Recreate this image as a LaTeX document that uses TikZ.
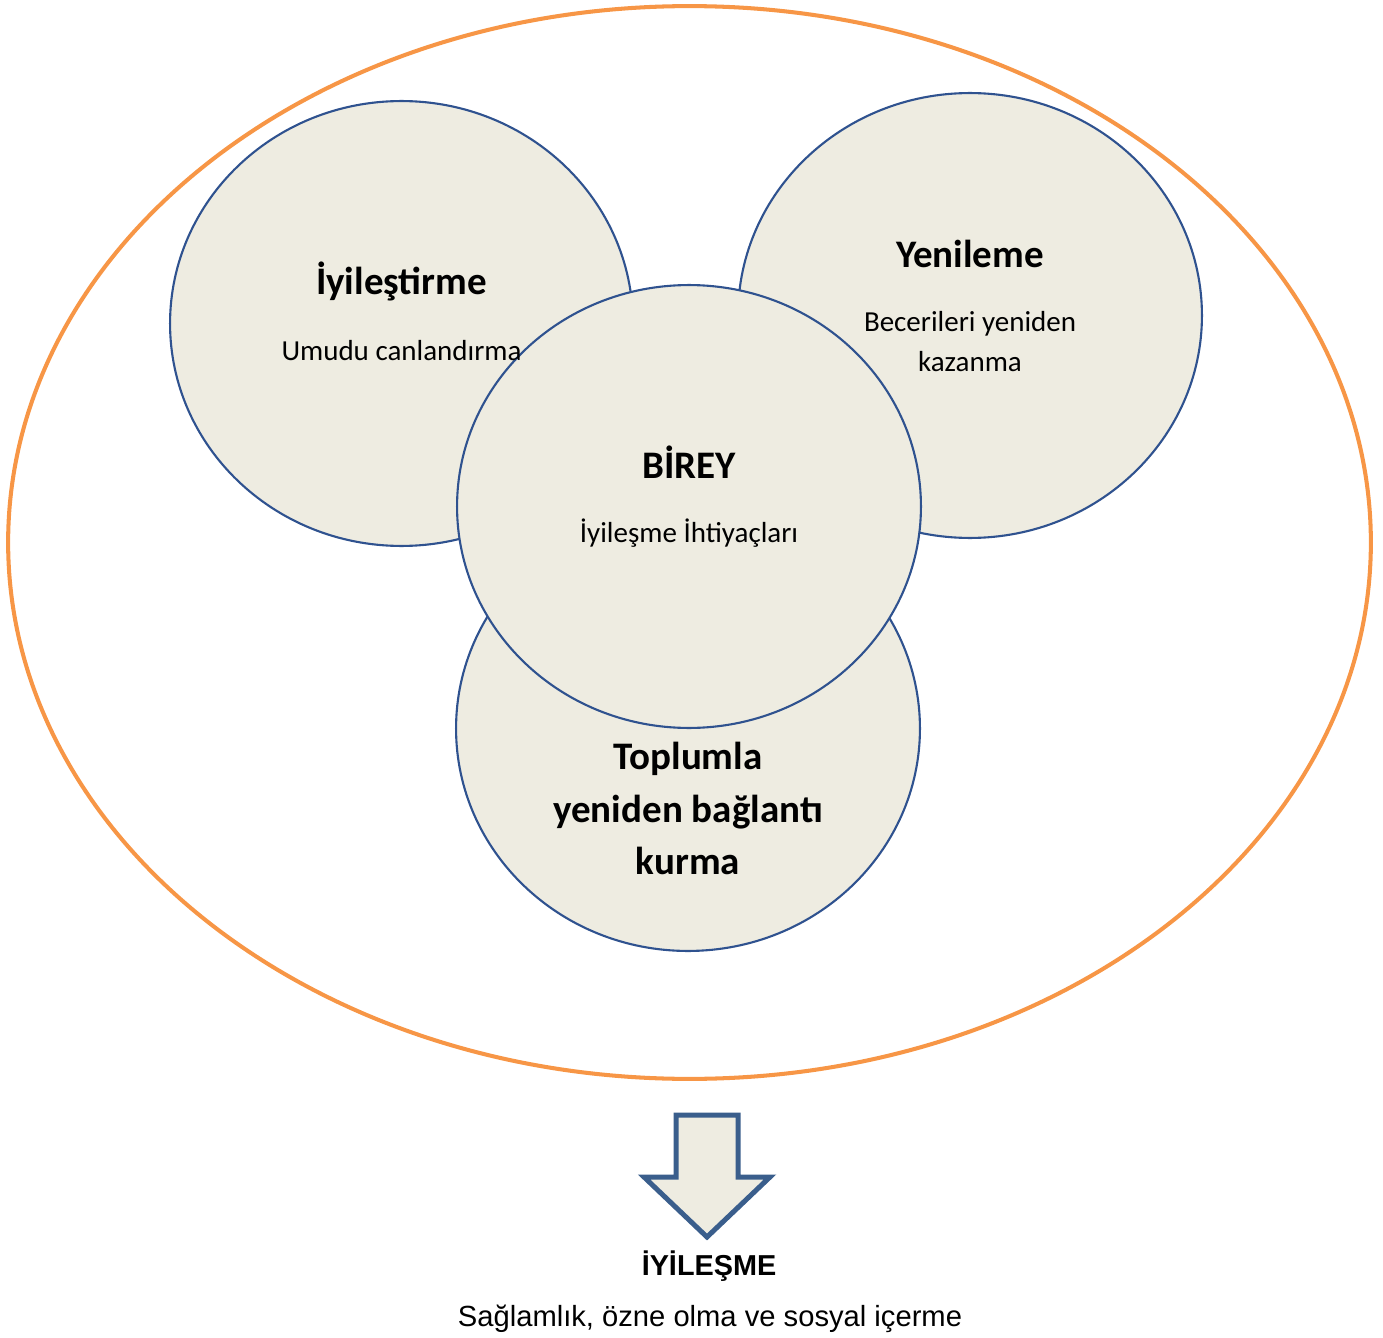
\documentclass[tikz,border=0pt]{standalone}
\usepackage{fontspec}
\setmainfont{Carlito}
\newfontfamily\arialfont{Liberation Sans}
\usepackage{xcolor}
\usetikzlibrary{shapes.geometric}

\definecolor{turuncu}{HTML}{F79646}
\definecolor{halkamavi}{HTML}{2F528F}
\definecolor{oknavi}{HTML}{3A5E8C}
\definecolor{halkadolgu}{HTML}{EEECE1}

\begin{document}
\begin{tikzpicture}[x=0.02cm,y=-0.02cm,
    halka/.style={ellipse,draw=halkamavi,fill=halkadolgu,line width=1.2pt,inner sep=0pt},
    baslik/.style={anchor=base,inner sep=0pt,font=\fontsize{22.2}{29.6}\selectfont\bfseries,align=center},
    metin/.style={anchor=base,inner sep=0pt,font=\fontsize{16.5}{22.2}\selectfont,align=center}]

\useasboundingbox (0,0) rectangle (1383,1338);

\node [ellipse,draw=turuncu,line width=2.3pt,minimum width=27.26cm,minimum height=21.46cm] (dis) at (689.5,542.5) {}; % outer ring

\node [halka,minimum width=9.26cm,minimum height=8.9cm] (iyilestirme) at (401.5,323.5) {};
\node [halka,minimum width=9.28cm,minimum height=8.9cm] (yenileme) at (970,315.5) {};
\node [halka,minimum width=9.28cm,minimum height=8.9cm] (toplum) at (688,728.5) {};
\node [halka,minimum width=9.28cm,minimum height=8.86cm] (birey) at (689,506.5) {}; % on top

\node [baslik] (iyilestirmeT) at (401.5,295) {İyileştirme};
\node [metin] (iyilestirmeA) at (401.5,360) {Umudu canlandırma};

\node [baslik] (yenilemeT) at (970,268) {Yenileme};
\node [metin] (yenilemeA) at (970,371) {Becerileri yeniden\\kazanma};

\node [baslik] (bireyT) at (689,478) {BİREY};
\node [metin] (bireyA) at (689,542) {İyileşme İhtiyaçları};

\node [baslik] (toplumT) at (688,874) {Toplumla\\yeniden bağlantı\\kurma};

% down arrow
\draw [draw=oknavi,fill=halkadolgu,line width=0.1cm,line join=miter]
  (676,1115) -- (738,1115) -- (738,1177) -- (770,1177) -- (707,1237)
  -- (644,1177) -- (676,1177) -- cycle;

\node [anchor=base,inner sep=0pt,font=\arialfont\fontsize{16.4}{20}\selectfont\bfseries] (iyilesme) at (709,1275) {İYİLEŞME};
\node [anchor=base,inner sep=0pt,font=\arialfont\fontsize{16.6}{20}\selectfont] (iyilesmeA) at (710,1326) {Sağlamlık, özne olma ve sosyal içerme};

\end{tikzpicture}
\end{document}
